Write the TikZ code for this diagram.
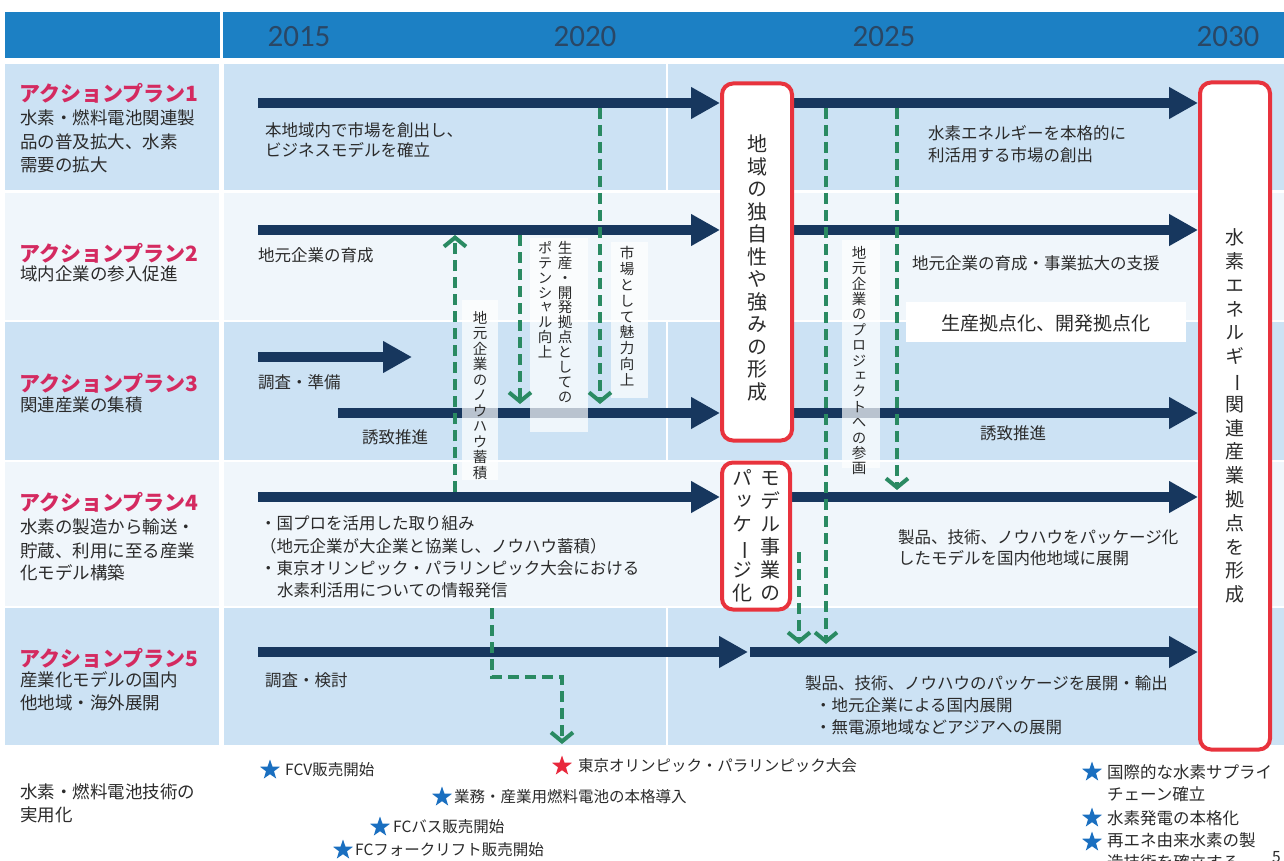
\documentclass[tikz,border=0pt]{standalone}
\usepackage{fontspec}
\usepackage{graphicx}
\usetikzlibrary{arrows.meta,shapes.geometric}
\setmainfont{Noto Sans CJK JP}
\newfontfamily\jpn{Noto Sans CJK JP}
\newfontfamily\vjp{Noto Sans CJK JP}[RawFeature=+vert]
\newfontfamily\yrfont{Carlito}
\definecolor{hdr}{HTML}{1C80C4}
\definecolor{rowblue}{HTML}{CCE2F4}
\definecolor{rowwhite}{HTML}{F0F6FB}
\definecolor{navy}{HTML}{17375E}
\definecolor{redb}{HTML}{E8333D}
\definecolor{grn}{HTML}{2A8A62}
\definecolor{pinkl}{HTML}{D42A60}
\definecolor{txtc}{HTML}{2B2B2B}
\definecolor{yearc}{HTML}{2A4765}
\definecolor{starb}{HTML}{1A6FC0}
\definecolor{starr}{HTML}{E8283C}
\makeatletter
\newcommand\vtxt[2]{\vbox{\baselineskip=#1\lineskip=0pt\lineskiplimit=-100pt\vjp\vtxt@#2\@nil}}
\def\vtxt@#1{\ifx#1\@nil\else\vtxtchar{#1}\expandafter\vtxt@\fi}
\def\vtxtchar#1{\ifx#1ー\hbox to 1em{\hss\jpn\rotatebox[origin=c]{-90}{ー}\hss}\else\hbox to 1em{\hss#1\hss}\fi}
\makeatother
\tikzset{
  navyarrow/.style={draw=navy, line width=10pt, -{Triangle[length=29pt,width=30pt]}},
  grnarrow/.style={draw=grn, line width=4pt, dash pattern=on 11pt off 6pt, -{Straight Barb[length=9pt,width=22pt]}},
  redbox/.style={draw=redb, line width=4pt, fill=white, rounded corners=11pt, inner sep=0pt},
  txt/.style={anchor=west, inner sep=0pt, text=txtc, font=\fontsize{16.5}{18}\selectfont},
  ltx/.style={anchor=west, inner sep=0pt, text=txtc, font=\fontsize{17.5}{19}\selectfont},
  lbl/.style={anchor=west, inner sep=0pt, text=pinkl, font=\fontsize{21}{23}\selectfont\bfseries},
  vt/.style={anchor=north, inner sep=0pt, text=txtc, font=\fontsize{14.5}{15}\selectfont},
  bt/.style={anchor=west, inner sep=0pt, text=txtc, font=\fontsize{15.5}{17}\selectfont},
  bt2/.style={anchor=west, inner sep=0pt, text=txtc, font=\fontsize{16.5}{18}\selectfont},
  yr/.style={inner sep=0pt, text=yearc, font=\yrfont\fontsize{31}{33}\selectfont},
  bstar/.style={star, star points=5, star point ratio=2.5, fill=starb, minimum size=21pt, inner sep=0pt},
  rstar/.style={bstar, fill=starr},
}
\begin{document}
\begin{tikzpicture}[x=1pt,y=-1pt]
\useasboundingbox (0,0) rectangle (1284,861);
\fill[white] (0,0) rectangle (1284,861);
% header
\fill[hdr] (5,12) rectangle (1284,58);
\fill[white] (220,12) rectangle (223,58);
\node[yr] (y2015) at (299,37) {2015};
\node[yr] (y2020) at (585,37) {2020};
\node[yr] (y2025) at (884,37) {2025};
\node[yr] (y2030) at (1228,37) {2030};
% rows
\foreach \a/\b/\c in {64/190/rowblue,193/320/rowwhite,322/460/rowblue,462/606/rowwhite,608/745/rowblue}{
  \fill[\c] (5,\a) rectangle (219,\b);
  \fill[\c] (224,\a) rectangle (1284,\b);
}
\foreach \a/\b in {64/190,322/460,608/745}{
  \draw[white, line width=1.5pt] (667,\a) -- (667,\b);
}
% coordinates
\coordinate (r1s) at (258,103); \coordinate (r1m) at (720,103);
\coordinate (r1n) at (792,103); \coordinate (r1e) at (1198,103);
\coordinate (r2s) at (258,230); \coordinate (r2m) at (720,230);
\coordinate (r2n) at (792,230); \coordinate (r2e) at (1198,230);
\coordinate (r3as) at (258,357); \coordinate (r3ae) at (412,357);
\coordinate (r3s) at (338,413); \coordinate (r3m) at (720,413);
\coordinate (r3n) at (792,413); \coordinate (r3e) at (1198,413);
\coordinate (r4s) at (258,497); \coordinate (r4m) at (720,497);
\coordinate (r4n) at (790,497); \coordinate (r4e) at (1198,497);
\coordinate (r5s) at (258,652); \coordinate (r5m) at (748,652);
\coordinate (r5n) at (750,652); \coordinate (r5e) at (1198,652);
% navy arrows
\draw[navyarrow] (r1s) -- (r1m);
\draw[navyarrow] (r1n) -- (r1e);
\draw[navyarrow] (r2s) -- (r2m);
\draw[navyarrow] (r2n) -- (r2e);
\draw[navyarrow] (r3as) -- (r3ae);
\draw[navyarrow] (r3s) -- (r3m);
\draw[navyarrow] (r3n) -- (r3e);
\draw[navyarrow] (r4s) -- (r4m);
\draw[navyarrow] (r4n) -- (r4e);
\draw[navyarrow] (r5s) -- (r5m);
\draw[navyarrow] (r5n) -- (r5e);
% label backgrounds
\fill[white, opacity=0.7] (462,300) rectangle (498,480);
\fill[white, opacity=0.7] (530,238) rectangle (588,432);
\fill[white, opacity=0.7] (611,242) rectangle (648,398);
\fill[white, opacity=0.7] (842,240) rectangle (880,468);
\node[fill=white, minimum width=280pt, minimum height=40pt, inner sep=0pt] (kyoten) at (1046,322) {};
\node[inner sep=0pt, text=txtc, font=\fontsize{19}{21}\selectfont] (kyotent) at (1046,323) {生産拠点化、開発拠点化};
% red boxes
\node[redbox, minimum width=70pt, minimum height=357pt] (boxA) at (757,262) {};
\node[inner sep=0pt, text=txtc, font=\fontsize{20}{22}\selectfont] (boxAt) at (757,268) {\vtxt{22.5pt}{地域の独自性や強みの形成}};
\node[redbox, minimum width=68pt, minimum height=147pt, text=txtc, font=\fontsize{20}{22}\selectfont] (boxB) at (756,536) {\vtxt{23pt}{パッケージ化}\hspace{8pt}\vtxt{23pt}{モデル事業の}};
\node[redbox, minimum width=70pt, minimum height=667pt, text=txtc, font=\fontsize{19}{21}\selectfont] (boxC) at (1235,416) {\vtxt{23.8pt}{水素エネルギー関連産業拠点を形成}};
% green dashed arrows
\coordinate (g1s) at (455,492); \coordinate (g1e) at (455,235);
\coordinate (g2s) at (520,235); \coordinate (g2e) at (520,404);
\coordinate (g3s) at (600,108); \coordinate (g3e) at (600,404);
\coordinate (g4s) at (826,108); \coordinate (g4e) at (826,644);
\coordinate (g5s) at (897,108); \coordinate (g5e) at (897,490);
\coordinate (g6s) at (799,552); \coordinate (g6e) at (799,644);
\coordinate (g7s) at (492,608); \coordinate (g7a) at (492,677);
\coordinate (g7b) at (562,677); \coordinate (g7e) at (562,744);
\draw[grnarrow] (g1s) -- (g1e);
\draw[grnarrow] (g2s) -- (g2e);
\draw[grnarrow] (g3s) -- (g3e);
\draw[grnarrow] (g4s) -- (g4e);
\draw[grnarrow] (g5s) -- (g5e);
\draw[grnarrow] (g6s) -- (g6e);
\draw[grnarrow] (g7s) -- (g7a) -- (g7b) -- (g7e);
% vertical labels
\node[vt] (v1) at (480,311) {\vtxt{15.5pt}{地元企業のノウハウ蓄積}};
\node[vt] (v2a) at (565,241) {\vtxt{14.9pt}{生産・開発拠点としての}};
\node[vt] (v2b) at (545,241) {\vtxt{14.9pt}{ポテンシャル向上}};
\node[vt] (v3) at (627,246) {\vtxt{15.9pt}{市場として魅力向上}};
\node[vt] (v4) at (859,246) {\vtxt{15.4pt}{地元企業のプロジェクトへの参画}};
% left column
\node[lbl] (ap1) at (19,93) {アクションプラン1};
\node[ltx] (ap1a) at (20,118) {水素・燃料電池関連製};
\node[ltx] (ap1b) at (20,142) {品の普及拡大、水素};
\node[ltx] (ap1c) at (20,165) {需要の拡大};
\node[lbl] (ap2) at (19,253) {アクションプラン2};
\node[ltx] (ap2a) at (20,274) {域内企業の参入促進};
\node[lbl] (ap3) at (19,383) {アクションプラン3};
\node[ltx] (ap3a) at (20,405) {関連産業の集積};
\node[lbl] (ap4) at (19,502) {アクションプラン4};
\node[ltx] (ap4a) at (20,527) {水素の製造から輸送・};
\node[ltx] (ap4b) at (20,551) {貯蔵、利用に至る産業};
\node[ltx] (ap4c) at (20,573) {化モデル構築};
\node[lbl] (ap5) at (19,658) {アクションプラン5};
\node[ltx] (ap5a) at (20,680) {産業化モデルの国内};
\node[ltx] (ap5b) at (20,703) {他地域・海外展開};
\node[ltx] (jy1) at (20,792) {水素・燃料電池技術の};
\node[ltx] (jy2) at (20,815) {実用化};
% main texts
\node[txt] (t1a) at (265,130) {本地域内で市場を創出し、};
\node[txt] (t1b) at (265,150) {ビジネスモデルを確立};
\node[txt] (t1c) at (928,133) {水素エネルギーを本格的に};
\node[txt] (t1d) at (928,155) {利活用する市場の創出};
\node[txt] (t2a) at (258,255) {地元企業の育成};
\node[txt] (t2b) at (912,263) {地元企業の育成・事業拡大の支援};
\node[txt] (t3a) at (258,382) {調査・準備};
\node[txt] (t3b) at (362,437) {誘致推進};
\node[txt] (t3c) at (980,433) {誘致推進};
\node[txt] (t4a) at (260,523) {・国プロを活用した取り組み};
\node[txt] (t4b) at (260,546) {（地元企業が大企業と協業し、ノウハウ蓄積）};
\node[txt] (t4c) at (260,568) {・東京オリンピック・パラリンピック大会における};
\node[txt] (t4d) at (277,590) {水素利活用についての情報発信};
\node[txt] (t4e) at (898,537) {製品、技術、ノウハウをパッケージ化};
\node[txt] (t4f) at (898,558) {したモデルを国内他地域に展開};
\node[txt] (t5a) at (265,680) {調査・検討};
\node[txt] (t5b) at (805,683) {製品、技術、ノウハウのパッケージを展開・輸出};
\node[txt] (t5c) at (815,705) {・地元企業による国内展開};
\node[txt] (t5d) at (815,727) {・無電源地域などアジアへの展開};
% bottom stars
\node[bstar] (s1) at (270,770) {};
\node[bt] (s1t) at (285,770) {FCV販売開始};
\node[rstar] (s2) at (562,766) {};
\node[bt] (s2t) at (578,766) {東京オリンピック・パラリンピック大会};
\node[bstar] (s3) at (442,797) {};
\node[bt] (s3t) at (454,797) {業務・産業用燃料電池の本格導入};
\node[bstar] (s4) at (380,827) {};
\node[bt] (s4t) at (393,827) {FCバス販売開始};
\node[bstar] (s5) at (343,850) {};
\node[bt] (s5t) at (355,850) {FCフォークリフト販売開始};
\node[bstar] (s6) at (1092,772) {};
\node[bt2] (s6t) at (1107,772) {国際的な水素サプライ};
\node[bt2] (s6u) at (1107,794) {チェーン確立};
\node[bstar] (s7) at (1092,818) {};
\node[bt2] (s7t) at (1107,818) {水素発電の本格化};
\node[bstar] (s8) at (1092,842) {};
\node[bt2] (s8t) at (1107,840) {再エネ由来水素の製};
\node[bt2] (s8u) at (1107,862) {造技術を確立する};
\node[bt] (pg) at (1272,857) {5};
\end{tikzpicture}
\end{document}
